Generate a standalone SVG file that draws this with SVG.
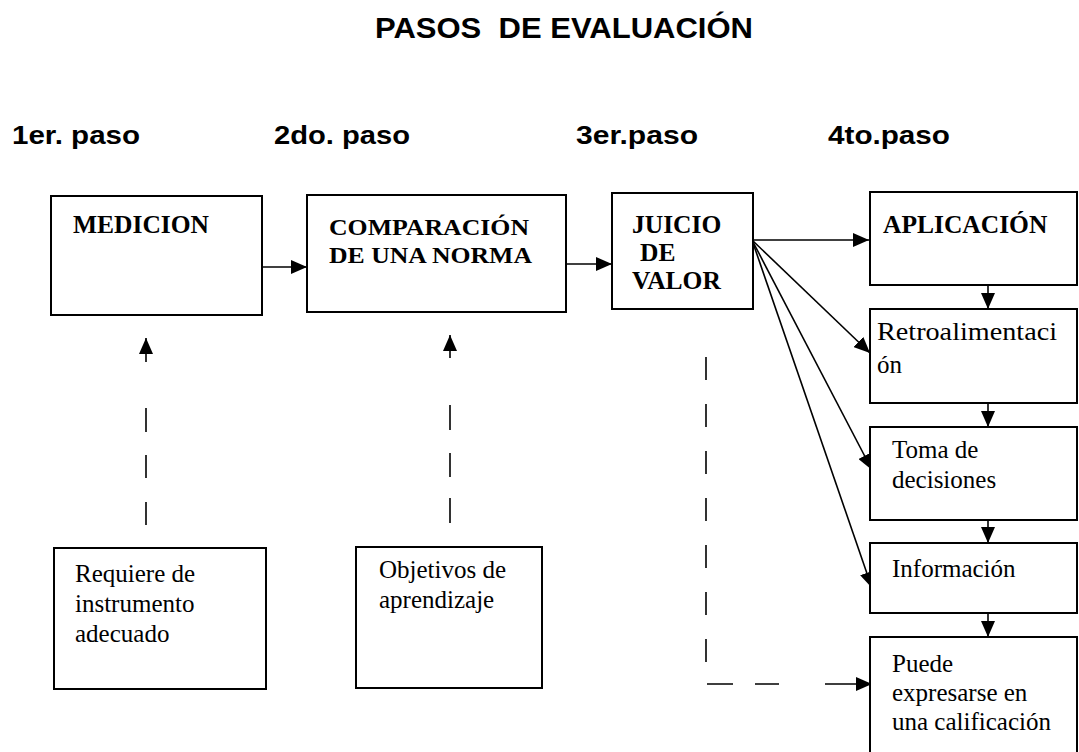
<svg xmlns="http://www.w3.org/2000/svg" width="1079" height="752" viewBox="0 0 1079 752">
<style>
.bg{fill:#ffffff}
.box{fill:#ffffff;stroke:#000;stroke-width:2}
.title{font-family:"Liberation Sans",Arial,sans-serif;font-weight:bold;font-size:29px;fill:#000}
.step{font-family:"Liberation Sans",Arial,sans-serif;font-weight:bold;font-size:25px;fill:#000}
.bt{font-family:"Liberation Serif","Times New Roman",serif;font-weight:bold;font-size:25.5px;fill:#000}
.bs{font-family:"Liberation Serif","Times New Roman",serif;font-weight:bold;font-size:23.5px;fill:#000}
.rt{font-family:"Liberation Serif","Times New Roman",serif;font-size:25px;fill:#000}
.con{fill:none;stroke:#000;stroke-width:1.6}
</style>
<defs>
<marker id="ah" markerUnits="userSpaceOnUse" markerWidth="16" markerHeight="14" refX="16" refY="7" orient="auto">
<path d="M0,0 L16,7 L0,14 z" fill="#000"/>
</marker>
</defs>
<rect class="bg" x="0" y="0" width="1079" height="752"/>
<text class="title" x="375" y="38" textLength="378" lengthAdjust="spacingAndGlyphs" xml:space="preserve">PASOS  DE EVALUACIÓN</text>
<g id="steps">
<text class="step" x="12" y="144" textLength="128" lengthAdjust="spacingAndGlyphs">1er. paso</text>
<text class="step" x="274" y="144" textLength="136" lengthAdjust="spacingAndGlyphs">2do. paso</text>
<text class="step" x="576" y="144" textLength="122" lengthAdjust="spacingAndGlyphs">3er.paso</text>
<text class="step" x="828" y="144" textLength="122" lengthAdjust="spacingAndGlyphs">4to.paso</text>
</g>
<g id="connectors">
<path class="con" d="M262 267 H307" marker-end="url(#ah)"/>
<path class="con" d="M566 264 H612" marker-end="url(#ah)"/>
<path class="con" d="M752 240 H869" marker-end="url(#ah)"/>
<path class="con" d="M752 240 L870 353" marker-end="url(#ah)"/>
<path class="con" d="M752 240 L872 470" marker-end="url(#ah)"/>
<path class="con" d="M752 240 L872 588" marker-end="url(#ah)"/>
<path class="con" d="M988 285 V309" marker-end="url(#ah)"/>
<path class="con" d="M988 403 V427" marker-end="url(#ah)"/>
<path class="con" d="M988 520 V543" marker-end="url(#ah)"/>
<path class="con" d="M988 613 V637" marker-end="url(#ah)"/>
<path class="con" d="M146 525 V502 M146 478 V455 M146 432 V408 M146 362 V338" marker-end="url(#ah)"/>
<path class="con" d="M450 523 V498 M450 477 V453 M450 430 V405 M450 358 V335" marker-end="url(#ah)"/>
<path class="con" d="M706 357 V662" stroke-dasharray="23 24"/>
<path class="con" d="M707 684 H733 M755 684 H779 M825 684 H872" marker-end="url(#ah)"/>
</g>
<g id="medicion">
<rect class="box" x="51" y="196" width="211" height="119"/>
<text class="bt" x="73" y="233">MEDICION</text>
</g>
<g id="comparacion">
<rect class="box" x="307" y="195" width="259" height="117"/>
<text class="bs" x="329" y="235" textLength="200" lengthAdjust="spacingAndGlyphs">COMPARACIÓN</text>
<text class="bs" x="329" y="263" textLength="203" lengthAdjust="spacingAndGlyphs">DE UNA NORMA</text>
</g>
<g id="juicio">
<rect class="box" x="612" y="193" width="141" height="116"/>
<text class="bt" x="632" y="233">JUICIO</text>
<text class="bt" x="640" y="261">DE</text>
<text class="bt" x="632" y="289">VALOR</text>
</g>
<g id="aplicacion">
<rect class="box" x="870" y="192" width="207" height="93"/>
<text class="bt" x="883" y="233">APLICACIÓN</text>
</g>
<g id="retroalimentacion">
<rect class="box" x="870" y="309" width="207" height="94"/>
<text class="rt" x="877" y="340" textLength="180" lengthAdjust="spacingAndGlyphs">Retroalimentaci</text>
<text class="rt" x="877" y="373">ón</text>
</g>
<g id="toma">
<rect class="box" x="870" y="427" width="207" height="93"/>
<text class="rt" x="892" y="458">Toma de</text>
<text class="rt" x="892" y="488">decisiones</text>
</g>
<g id="informacion">
<rect class="box" x="870" y="543" width="207" height="70"/>
<text class="rt" x="892" y="577">Información</text>
</g>
<g id="puede">
<rect class="box" x="870" y="637" width="207" height="123"/>
<text class="rt" x="892" y="672">Puede</text>
<text class="rt" x="892" y="701">expresarse en</text>
<text class="rt" x="892" y="730">una calificación</text>
</g>
<g id="requiere">
<rect class="box" x="54" y="548" width="212" height="141"/>
<text class="rt" x="75" y="582">Requiere de</text>
<text class="rt" x="75" y="612">instrumento</text>
<text class="rt" x="75" y="642">adecuado</text>
</g>
<g id="objetivos">
<rect class="box" x="356" y="547" width="186" height="141"/>
<text class="rt" x="379" y="578">Objetivos de</text>
<text class="rt" x="379" y="608">aprendizaje</text>
</g>
</svg>
